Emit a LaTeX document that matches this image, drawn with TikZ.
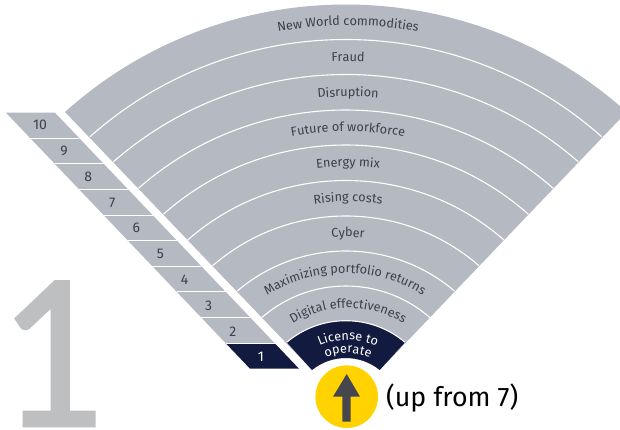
\documentclass[tikz,border=0pt]{standalone}
\usepackage{fontspec}
\setmainfont{Fira Sans}
\newfontfamily\bigfont[FakeBold=1.6]{Lato}
\usetikzlibrary{decorations.text}
\definecolor{bandgray}{HTML}{B5B9C2}
\definecolor{navy}{HTML}{131A40}
\definecolor{inkgray}{HTML}{3F3F48}
\definecolor{eyyellow}{HTML}{FFD200}
\definecolor{bigone}{HTML}{BEBFC1}
\definecolor{arrowgray}{HTML}{46464E}
\newcommand{\lblsize}{\fontsize{12.7}{14}\selectfont}
\tikzset{
  x=1pt,y=1pt,
  sep/.style={white,line width=1.1pt},
  numlabel/.style={font=\fontsize{14}{16}\selectfont,text=inkgray,inner sep=0pt},
}
% arc through (cx-hw,y), top point (cx,tp), (cx+hw,y); all in reference pixels
\newcommand{\setarc}[3]{%
  \pgfmathsetmacro{\hh}{#3/100}%
  \pgfmathsetmacro{\ss}{(#2-#1)/100}%
  \pgfmathsetmacro{\RR}{(\hh*\hh+\ss*\ss)/(2*\ss)*100}%
  \pgfmathsetmacro{\AA}{asin(#3/\RR)}%
  \pgfmathsetmacro{\XL}{345.85-#3}%
  \pgfmathsetmacro{\XR}{345.85+#3}%
  \pgfmathsetmacro{\YY}{430-#2}%
}
\def\lx{348}
\newcommand{\arclabel}[4][inkgray]{%
  \pgfmathsetmacro{\rr}{#3-#2}%
  \path[decorate,decoration={text along path,text align=center,
    text={|\color{#1}\lblsize|#4}}]
    ({\lx+\rr*cos(132)},{430-#3+\rr*sin(132)}) arc[start angle=132,end angle=48,radius=\rr];}
\begin{document}
\begin{tikzpicture}
\useasboundingbox (0,0) rectangle (620,430);
\clip (0,0) rectangle (620,430);
% big numeral
\node[anchor=south west,inner sep=0pt,text=bigone] (bignum) at (1,4) {\resizebox{106pt}{144pt}{\bigfont 1}};
% ladder
\foreach \i in {0,...,9}{
  \pgfmathsetmacro{\yt}{430-112.7-25.6*\i}
  \pgfmathsetmacro{\yb}{\yt-25.6}
  \pgfmathsetmacro{\xa}{6+24.4*\i}
  \pgfmathsetmacro{\xb}{\xa+24.4}
  \ifnum\i=9 \def\rowcol{navy}\else\def\rowcol{bandgray}\fi
  \fill[\rowcol] (\xa,\yt) -- (\xa+49,\yt) -- (\xb+49,\yb) -- (\xb,\yb) -- cycle;
  \ifnum\i>0 \draw[sep] (\xa,\yt) -- (\xa+49,\yt);\fi
}
\foreach \n [count=\i from 0] in {10,9,8,7,6,5,4,3,2}{
  \node[numlabel] (num\n) at ({40+24.1*\i},{430-125-25.8*\i}) {\n};
}
\node[numlabel,text=white] (num1) at (261,73) {1};
% fan: outer sector
\setarc{4.5}{112}{280.85}
\let\XLo\XL \let\XRo\XR \let\YYo\YY \let\RRo\RR \let\AAo\AA
\setarc{358}{370}{33.85}
\fill[bandgray] (\XLo,\YYo) arc[start angle={90+\AAo},end angle={90-\AAo},radius=\RRo] -- (\XR,\YY) arc[start angle={90-\AA},end angle={90+\AA},radius=\RR] -- cycle;
\let\XLi\XL \let\XRi\XR \let\YYi\YY \let\RRi\RR \let\AAi\AA
% innermost dark band
\setarc{320.7}{342.3}{59.15}
\fill[navy] (\XL,\YY) arc[start angle={90+\AA},end angle={90-\AA},radius=\RR] -- (\XRi,\YYi) arc[start angle={90-\AAi},end angle={90+\AAi},radius=\RRi] -- cycle;
% separators
\foreach \tp/\yy/\hw in {39.5/136.7/255.85,74.5/161.7/232.35,110/188.3/207.35,145/214.3/182.55,180.5/240/158.15,216/265.7/133.15,251/291/108.55,286/317.7/84.15,320.7/342.3/59.15}{
  \setarc{\tp}{\yy}{\hw}
  \draw[sep] (\XL,\YY) arc[start angle={90+\AA},end angle={90-\AA},radius=\RR];
}
% labels
\arclabel{25.5}{425}{New World commodities}
\arclabel{61.5}{424}{Fraud}
\arclabel{96.5}{424}{Disruption}
\arclabel{131.5}{424}{Future of workforce}
\arclabel{166.5}{424}{Energy mix}
\arclabel{201.5}{422}{Rising costs}
\arclabel{237}{420}{Cyber}
\def\lx{345}
\arclabel{273}{420}{Maximizing portfolio returns}
\def\lx{348}
\arclabel{308}{415}{Digital effectiveness}
\arclabel[white]{340}{410}{License to}
\arclabel[white]{353}{410}{operate}
% arrow badge
\node[circle,fill=eyyellow,minimum size=62.6pt,inner sep=0pt] (badge) at (346.7,33.3) {};
\fill[arrowgray] (346.7,56) -- (360,33.3) -- (350.7,33.3) -- (350.7,8.3) -- (342.3,8.3) -- (342.3,33.3) -- (333,33.3) -- cycle;
\node[anchor=west,inner sep=0pt,text=black,font=\fontsize{26.8}{28}\selectfont] (upfrom) at (386,32) {(up from 7)};
\end{tikzpicture}
\end{document}
